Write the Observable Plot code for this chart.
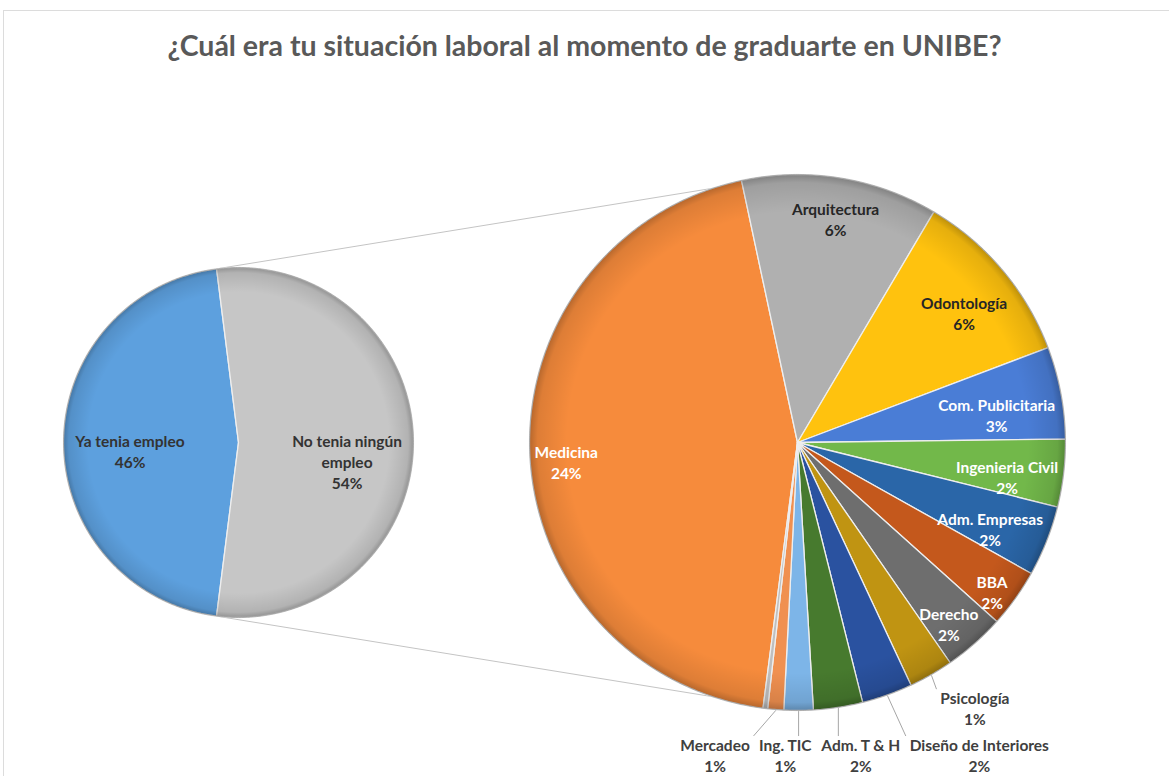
<!DOCTYPE html>
<html><head><meta charset="utf-8">
<script src="https://cdn.jsdelivr.net/npm/d3@7"></script>
<script src="https://cdn.jsdelivr.net/npm/@observablehq/plot@0.6"></script>
<style>
body{margin:0;background:#fff;overflow:hidden;}
#frame{position:absolute;left:3px;top:10px;width:1200px;height:800px;border:1px solid #dcdcdc;box-sizing:border-box;}
#title{position:absolute;left:0;top:25px;width:1169px;text-align:center;font-family:Lato, sans-serif;font-weight:bold;font-size:28.5px;color:#595959;line-height:40px;}
#chart{position:absolute;left:0;top:80px;}
</style></head><body>
<div id="frame"></div>
<div id="title"></div>
<div id="chart"></div>
<svg width="0" height="0" style="position:absolute"><defs>
<radialGradient id="rim" cx="50%" cy="50%" r="50%">
 <stop offset="0%" stop-color="#ffffff" stop-opacity="0"/>
 <stop offset="86%" stop-color="#000000" stop-opacity="0"/>
 <stop offset="97%" stop-color="#000000" stop-opacity="0.10"/>
 <stop offset="100%" stop-color="#000000" stop-opacity="0.26"/>
</radialGradient></defs></svg>
<script>
// ---------- data ----------
const titleText = "¿Cuál era tu situación laboral al momento de graduarte en UNIBE?";
const mainCategories = ["Ya tenia empleo", "No tenia ningún empleo"];
const mainValues = [46, 54];
const subCategories = ["Medicina", "Arquitectura", "Odontología", "Com. Publicitaria", "Ingenieria Civil",
  "Adm. Empresas", "BBA", "Derecho", "Psicología", "Diseño de Interiores", "Adm. T & H", "Ing. TIC", "Mercadeo", "Otra"];
const subValues = [24.08, 6.4, 5.8, 3.0, 2.2, 2.3, 1.9, 2.0, 1.45, 1.65, 1.6, 0.95, 0.52, 0.15];

// ---------- styles ----------
const mainColors = ["#5DA0DE", "#C6C6C6"];
const subColors = ["#F68B3C", "#B0B0B0", "#FFC20E", "#4A7DD6", "#72B84A", "#2A66A8", "#C4581C", "#6E6E6E",
  "#C09412", "#2A52A0", "#477A2E", "#7DB5E8", "#F09050", "#BFBFBF"];
const subInk = ["#ffffff", "#262626", "#262626", "#ffffff", "#ffffff", "#ffffff", "#ffffff", "#ffffff",
  "#404040", "#404040", "#404040", "#404040", "#404040", "#404040"];
const mainInk = ["#333333", "#333333"];
const FONT = "Lato, sans-serif";
const FS = 15.5;
const LH = 1.35;

document.getElementById("title").textContent = titleText;

const W = 1169, H = 696;
const deg = Math.PI / 180;
const L = {cx: 238, cy: 362, r: 175};
const R = {cx: 797, cy: 362, r: 268};

const ctx = document.createElement("canvas").getContext("2d");
ctx.font = `bold ${FS}px Lato`;
const tw = s => ctx.measureText(s).width;
function wrap(name, maxW) {
  const words = name.split(" "); const lines = []; let cur = "";
  for (const w of words) {
    const t = cur ? cur + " " + w : w;
    if (cur && tw(t) > maxW) { lines.push(cur); cur = w; } else cur = t;
  }
  lines.push(cur); return lines;
}
const pct = (v, tot) => Math.round(v / tot * 100) + "%";

function pt(c, r, a) { return [c.cx + r * Math.sin(a), c.cy - r * Math.cos(a)]; }
function wedge(c, a0, a1, color) {
  const n = Math.max(2, Math.ceil((a1 - a0) / (0.5 * deg)));
  const ring = [[c.cx, c.cy]];
  for (let i = 0; i <= n; i++) ring.push(pt(c, c.r, a0 + (a1 - a0) * i / n));
  ring.push([c.cx, c.cy]);
  return {type: "Feature", properties: {color}, geometry: {type: "Polygon", coordinates: [ring]}};
}
function circle(c) {
  const ring = [];
  for (let i = 0; i <= 720; i++) ring.push(pt(c, c.r, i * 0.5 * deg));
  return {type: "Feature", properties: {}, geometry: {type: "Polygon", coordinates: [ring]}};
}
const line = (a, b) => ({type: "Feature", properties: {}, geometry: {type: "LineString", coordinates: [a, b]}});

const total = d3.sum(mainValues);
const otherShare = mainValues[1] / total;
const mainStart = Math.PI / 2 + otherShare * Math.PI;
const mainArcs = d3.pie().sort(null).startAngle(mainStart).endAngle(mainStart + 2 * Math.PI)(mainValues);
const subStart = 187.4 * deg;
const subArcs = d3.pie().sort(null).startAngle(subStart).endAngle(subStart + 2 * Math.PI)(subValues);

const slices = [];
mainArcs.forEach((a, i) => slices.push(wedge(L, a.startAngle, a.endAngle, mainColors[i])));
subArcs.forEach((a, i) => slices.push(wedge(R, a.startAngle, a.endAngle, subColors[i])));
const rims = [circle(L), circle(R)];

// connector lines: ends of the "other" slice to top and bottom of the second pie
const oArc = mainArcs[1];
const connectors = [
  line(pt(L, L.r, oArc.startAngle), [R.cx, R.cy - R.r]),
  line(pt(L, L.r, oArc.endAngle), [R.cx, R.cy + R.r])
];

// labels
const lineH = FS * LH;
const mainLabels = mainArcs.map((a, i) => {
  const mid = (a.startAngle + a.endAngle) / 2;
  const [x, y] = pt(L, L.r * 0.62, mid);
  return {x, y: y - lineH / 2, text: [...wrap(mainCategories[i], 140), pct(mainValues[i], total)].join("\n"), ink: mainInk[i]};
});
const labels = [];
const outside = [];
subArcs.forEach((a, i) => {
  const v = subValues[i];
  if (Math.round(v / total * 100) === 0) return;
  const mid = (a.startAngle + a.endAngle) / 2;
  const text = subCategories[i] + "\n" + pct(v, total);
  const w = Math.max(tw(subCategories[i]), tw(pct(v, total))), h = 2 * lineH;
  const sx = Math.sin(mid), cy = Math.cos(mid);
  if (v >= 1.8) {
    // "inside end" placement: box fits inside the rim
    const d = R.r - 4 - (Math.abs(sx) * w / 2 + Math.abs(cy) * h / 2);
    const [x, y] = pt(R, d, mid);
    labels.push({x, y: y + 10, text, ink: subInk[i]});
  } else {
    const [ex, ey] = pt(R, R.r * 1.12, mid);
    outside.push({mid, text, ink: subInk[i], w: w + 4, h, x: ex + sx * (w + 4) / 2, y: ey - cy * h / 2});
  }
});
// simple overlap relaxation for outside labels
const clamp = (v, a, b) => Math.max(a, Math.min(b, v));
const gap = 5;
for (let it = 0; it < 600; it++) {
  for (let i = 0; i < outside.length; i++) for (let j = i + 1; j < outside.length; j++) {
    const a = outside[i], b = outside[j];
    const ox = (a.w + b.w) / 2 + gap - Math.abs(a.x - b.x);
    const oy = (a.h + b.h) / 2 + gap - Math.abs(a.y - b.y);
    if (ox > 0 && oy > 0) {
      if (ox < 2 * oy) { const s = (a.x < b.x || (a.x === b.x && a.mid > b.mid)) ? -1 : 1; a.x += s * ox / 2; b.x -= s * ox / 2; }
      else { const s = a.y < b.y ? -1 : 1; a.y += s * oy / 2; b.y -= s * oy / 2; }
    }
  }
  for (const b of outside) {
    b.y = Math.min(b.y, H - b.h / 2 - 1);
    b.x = Math.min(b.x, W - 8 - b.w / 2);
    const nx = clamp(R.cx, b.x - b.w / 2, b.x + b.w / 2), ny = clamp(R.cy, b.y - b.h / 2, b.y + b.h / 2);
    const d = Math.hypot(nx - R.cx, ny - R.cy);
    if (d < R.r + 14) { const p = R.r + 14 - d; b.x += (nx - R.cx) / d * p; b.y += (ny - R.cy) / d * p; }
  }
}
const leaders = [];
for (const b of outside) {
  labels.push({x: b.x, y: b.y, text: b.text, ink: b.ink});
  const P = pt(R, R.r + 1, b.mid);
  const x0 = b.x - b.w / 2 - 2, x1 = b.x + b.w / 2 + 2, y0 = b.y - b.h / 2 + 2, y1 = b.y + b.h / 2;
  const Q = [clamp(P[0], x0, x1), clamp(P[1], y0, y1)];
  leaders.push(line(P, Q));
}

const chart = Plot.plot({
  width: W, height: H, margin: 0,
  color: {type: "identity"},
  projection: {type: "identity", domain: {type: "MultiPoint", coordinates: [[0, 0], [W, H]]}},
  style: {fontFamily: FONT, background: "transparent"},
  marks: [
    Plot.geo(connectors, {stroke: "#c4c4c4", strokeWidth: 1}),
    Plot.geo(slices, {fill: d => d.properties.color, stroke: "#eeeeee", strokeWidth: 1.3}),
    Plot.geo(rims, {fill: "url(#rim)", stroke: "#8a8a8a", strokeOpacity: 0.5, strokeWidth: 1}),
    Plot.geo(leaders, {stroke: "#a6a6a6", strokeWidth: 1}),
    Plot.text(mainLabels, {x: "x", y: "y", text: "text", fill: "ink", fontSize: FS, fontWeight: "bold",
      lineHeight: LH, lineAnchor: "top", textAnchor: "middle", fontFamily: FONT}),
    Plot.text(labels, {x: "x", y: "y", text: "text", fill: "ink", fontSize: FS, fontWeight: "bold",
      lineHeight: LH, textAnchor: "middle", fontFamily: FONT})
  ]
});
document.getElementById("chart").appendChild(chart);
</script>
</body></html>
